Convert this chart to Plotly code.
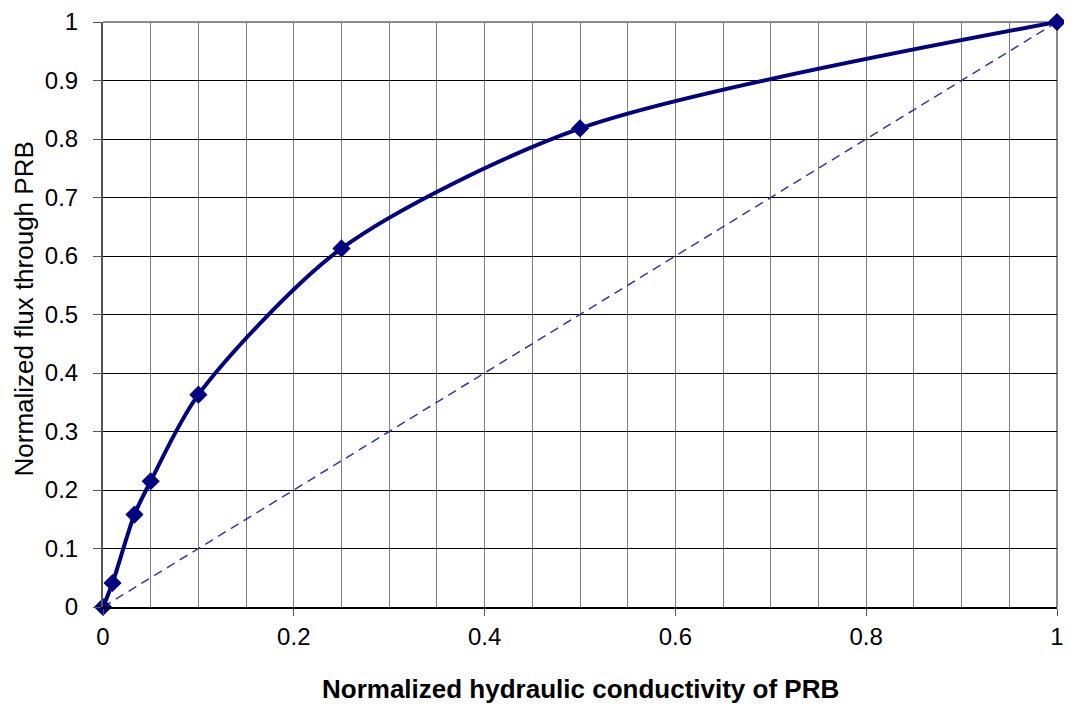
import plotly.graph_objects as go

k_norm = [0, 0.01, 0.033, 0.05, 0.1, 0.25, 0.5, 1.0]
flux_norm = [0, 0.041, 0.158, 0.215, 0.363, 0.613, 0.818, 1.0]
ref_x = [0, 1]
ref_y = [0, 1]

x_ticks = [0, 0.2, 0.4, 0.6, 0.8, 1]
x_labels = ["0", "0.2", "0.4", "0.6", "0.8", "1"]
y_ticks = [0, 0.1, 0.2, 0.3, 0.4, 0.5, 0.6, 0.7, 0.8, 0.9, 1]
y_labels = ["0", "0.1", "0.2", "0.3", "0.4", "0.5", "0.6", "0.7", "0.8", "0.9", "1"]

fig = go.Figure()
fig.add_trace(go.Scatter(x=ref_x, y=ref_y, mode="lines",
                         line=dict(color="#3535a8", width=1.5, dash="9px,6px"),
                         showlegend=False, hoverinfo="skip"))
fig.add_trace(go.Scatter(x=k_norm, y=flux_norm, mode="lines+markers",
                         line=dict(color="#000080", width=4, shape="spline", smoothing=0.8),
                         marker=dict(symbol="diamond", size=14, color="#000080"),
                         showlegend=False, cliponaxis=False))

font = "Liberation Sans, Arial, sans-serif"
fig.update_layout(
    width=1056, height=696,
    margin=dict(l=95, r=7, t=14, b=97),
    plot_bgcolor="white", paper_bgcolor="white",
    font=dict(family=font, color="black", size=24),
    xaxis=dict(range=[0, 1], tickvals=x_ticks, ticktext=x_labels,
               automargin=False, ticklabeloverflow="allow",
               showgrid=True, gridcolor="#7f7f7f", gridwidth=1,
               minor=dict(dtick=0.05, showgrid=True, gridcolor="#7f7f7f", gridwidth=1),
               ticks="outside", ticklen=7, tickcolor="#555555",
               showline=True, linecolor="black", linewidth=2, mirror=False,
               zeroline=False, tickfont=dict(size=24)),
    yaxis=dict(range=[0, 1], tickvals=y_ticks, ticktext=y_labels,
               automargin=False, ticklabeloverflow="allow",
               showgrid=True, gridcolor="black", gridwidth=1,
               ticks="outside", ticklen=8, tickcolor="#555555",
               ticklabelstandoff=10,
               showline=True, linecolor="#555555", linewidth=2,
               zeroline=False, tickfont=dict(size=24)),
)
fig.add_annotation(text="<b>Normalized hydraulic conductivity of PRB</b>",
                   xref="paper", yref="paper", x=0.5, y=0, xanchor="center", yanchor="middle",
                   yshift=-82, showarrow=False, font=dict(size=26, family=font, color="black"))
fig.add_annotation(text="Normalized flux through PRB", textangle=-90,
                   xref="paper", yref="paper", x=0, y=0.5, xanchor="center", yanchor="middle",
                   xshift=-80, yshift=5, showarrow=False, font=dict(size=26, family=font, color="black"))
fig.add_shape(type="line", xref="paper", yref="paper", x0=0, x1=1, y0=1, y1=1,
              line=dict(color="#8a8a8a", width=2), layer="below")
fig.add_shape(type="line", xref="paper", yref="paper", x0=1, x1=1, y0=0, y1=1,
              line=dict(color="#8a8a8a", width=2), layer="below")
fig.write_html("out.html")
